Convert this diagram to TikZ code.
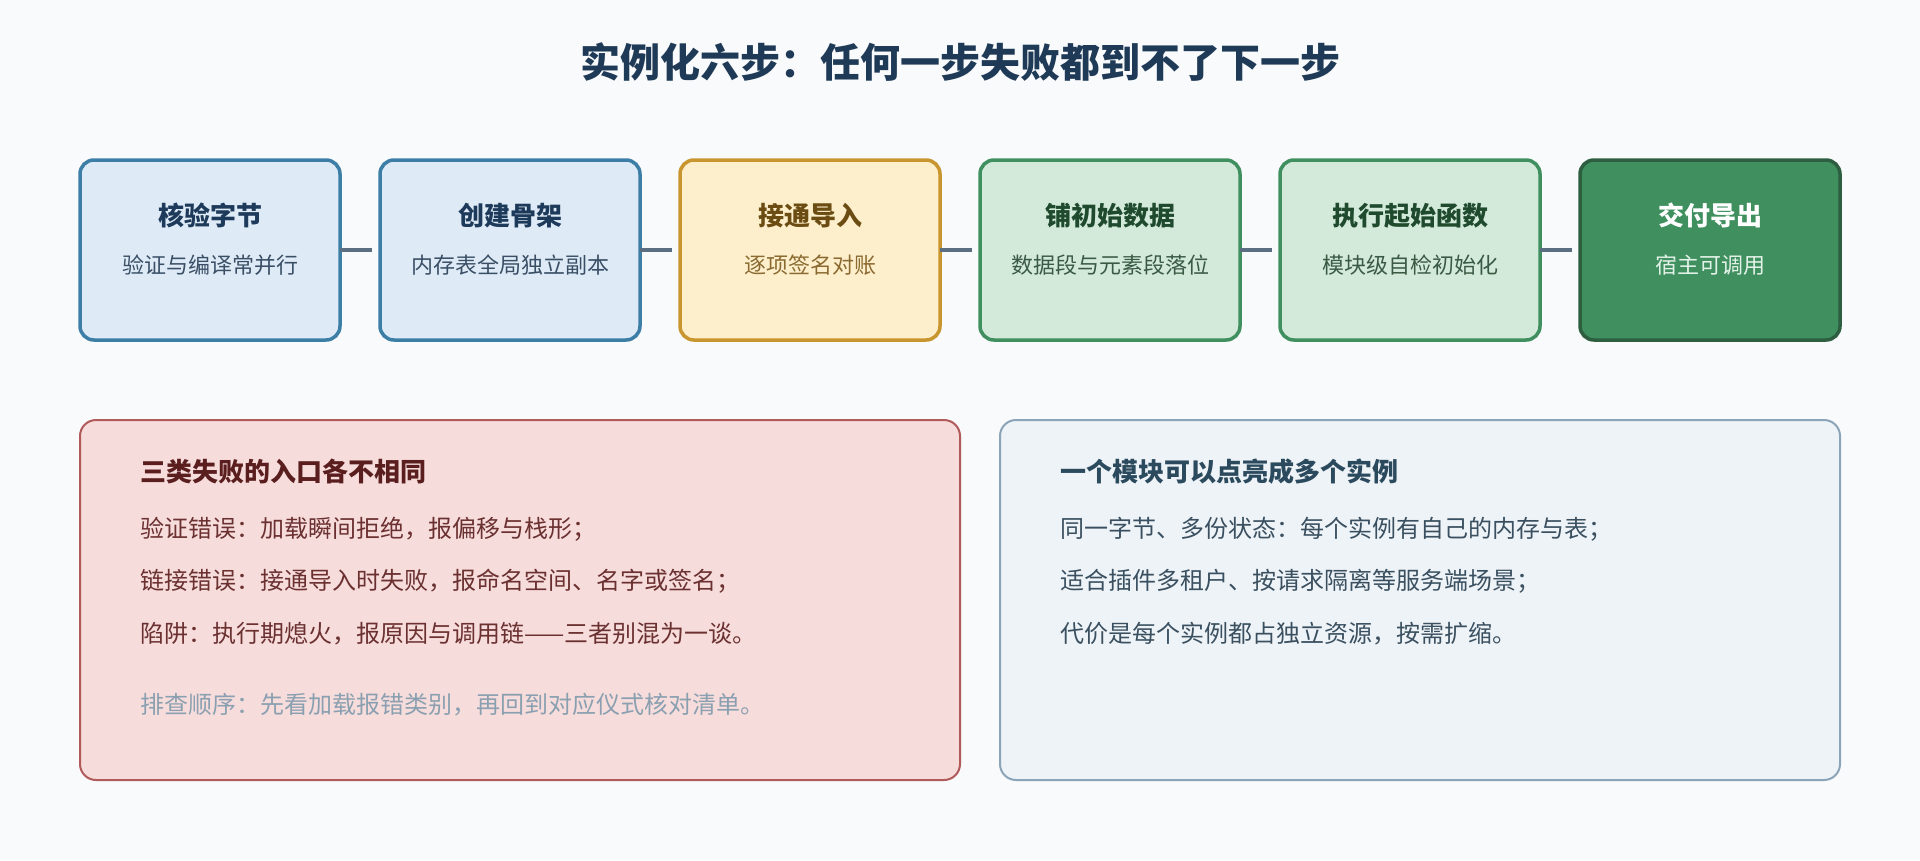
\documentclass[tikz,border=0pt]{standalone}
\usepackage{fontspec}
\setmainfont{Noto Sans CJK SC}
\definecolor{bgc}{HTML}{F8FAFC}
\definecolor{titlec}{HTML}{1F3A56}
\definecolor{linkc}{HTML}{5C6E82}
\definecolor{blueF}{HTML}{DEEBF7}
\definecolor{blueD}{HTML}{3D7EA6}
\definecolor{blueT}{HTML}{1E3A5A}
\definecolor{blueS}{HTML}{3A4F66}
\definecolor{yelF}{HTML}{FDEFCC}
\definecolor{yelD}{HTML}{C9952E}
\definecolor{yelT}{HTML}{6B4C12}
\definecolor{yelS}{HTML}{8A6A30}
\definecolor{grnF}{HTML}{D3EADB}
\definecolor{grnD}{HTML}{3F8F5F}
\definecolor{grnT}{HTML}{1F4A2E}
\definecolor{grnS}{HTML}{3A5A44}
\definecolor{dgrF}{HTML}{3F8F5F}
\definecolor{dgrD}{HTML}{2E5E40}
\definecolor{dgrS}{HTML}{E3F2E8}
\definecolor{redF}{HTML}{F7DCDC}
\definecolor{redD}{HTML}{B05A5A}
\definecolor{redT}{HTML}{5A1E1E}
\definecolor{redS}{HTML}{6B3030}
\definecolor{noteC}{HTML}{8AA0B0}
\definecolor{gryF}{HTML}{EEF3F7}
\definecolor{gryD}{HTML}{8CA4B8}
\definecolor{gryT}{HTML}{2C4A5E}
\definecolor{gryS}{HTML}{3A5060}
\tikzset{
  stepbox/.style={rectangle, rounded corners=14pt, line width=3.5pt, minimum width=260pt, minimum height=180pt, outer sep=0pt, inner sep=0pt},
  btitle/.style={anchor=base, inner sep=0pt, font=\bfseries\fontsize{26}{30}\selectfont},
  bsub/.style={anchor=base, inner sep=0pt, font=\fontsize{22}{26}\selectfont},
  link/.style={line width=3.5pt, draw=linkc, shorten >=8pt},
  panel/.style={rectangle, rounded corners=16pt, line width=2pt, minimum height=360pt, outer sep=0pt, inner sep=0pt},
  phead/.style={anchor=base west, inner sep=0pt, font=\bfseries\fontsize{26}{30}\selectfont},
  pline/.style={anchor=base west, inner sep=0pt, font=\fontsize{24}{28}\selectfont}
}
\begin{document}
\begin{tikzpicture}[x=1pt,y=-1pt]
\fill[bgc] (0,0) rectangle (1920,860);
\useasboundingbox (0,0) rectangle (1920,860);

\node[anchor=base, inner sep=0pt, text=titlec, font=\bfseries\fontsize{40}{48}\selectfont] (title) at (960,77) {实例化六步：任何一步失败都到不了下一步};

% step boxes
\node[stepbox, fill=blueF, draw=blueD] (b1) at (210,250) {};
\node[stepbox, fill=blueF, draw=blueD] (b2) at (510,250) {};
\node[stepbox, fill=yelF, draw=yelD] (b3) at (810,250) {};
\node[stepbox, fill=grnF, draw=grnD] (b4) at (1110,250) {};
\node[stepbox, fill=grnF, draw=grnD] (b5) at (1410,250) {};
\node[stepbox, fill=dgrF, draw=dgrD] (b6) at (1710,250) {};

\node[btitle, text=blueT] (b1t) at (210,225) {核验字节};
\node[bsub, text=blueS] (b1s) at (210,273) {验证与编译常并行};
\node[btitle, text=blueT] (b2t) at (510,225) {创建骨架};
\node[bsub, text=blueS] (b2s) at (510,273) {内存表全局独立副本};
\node[btitle, text=yelT] (b3t) at (810,225) {接通导入};
\node[bsub, text=yelS] (b3s) at (810,273) {逐项签名对账};
\node[btitle, text=grnT] (b4t) at (1110,225) {铺初始数据};
\node[bsub, text=grnS] (b4s) at (1110,273) {数据段与元素段落位};
\node[btitle, text=grnT] (b5t) at (1410,225) {执行起始函数};
\node[bsub, text=grnS] (b5s) at (1410,273) {模块级自检初始化};
\node[btitle, text=white] (b6t) at (1710,225) {交付导出};
\node[bsub, text=dgrS] (b6s) at (1710,273) {宿主可调用};

\draw[link] (b1.east) -- (b2.west);
\draw[link] (b2.east) -- (b3.west);
\draw[link] (b3.east) -- (b4.west);
\draw[link] (b4.east) -- (b5.west);
\draw[link] (b5.east) -- (b6.west);

% panels
\node[panel, fill=redF, draw=redD, minimum width=880pt] (p1) at (520,600) {};
\node[panel, fill=gryF, draw=gryD, minimum width=840pt] (p2) at (1420,600) {};

\node[phead, text=redT] (p1h) at (140,481) {三类失败的入口各不相同};
\node[pline, text=redS] (p1a) at (140,537) {验证错误：加载瞬间拒绝，报偏移与栈形；};
\node[pline, text=redS] (p1b) at (140,589) {链接错误：接通导入时失败，报命名空间、名字或签名；};
\node[pline, text=redS] (p1c) at (140,642) {陷阱：执行期熄火，报原因与调用链——三者别混为一谈。};
\node[pline, text=noteC] (p1d) at (140,713) {排查顺序：先看加载报错类别，再回到对应仪式核对清单。};

\node[phead, text=gryT] (p2h) at (1060,481) {一个模块可以点亮成多个实例};
\node[pline, text=gryS] (p2a) at (1060,537) {同一字节、多份状态：每个实例有自己的内存与表；};
\node[pline, text=gryS] (p2b) at (1060,589) {适合插件多租户、按请求隔离等服务端场景；};
\node[pline, text=gryS] (p2c) at (1060,642) {代价是每个实例都占独立资源，按需扩缩。};
\end{tikzpicture}
\end{document}
